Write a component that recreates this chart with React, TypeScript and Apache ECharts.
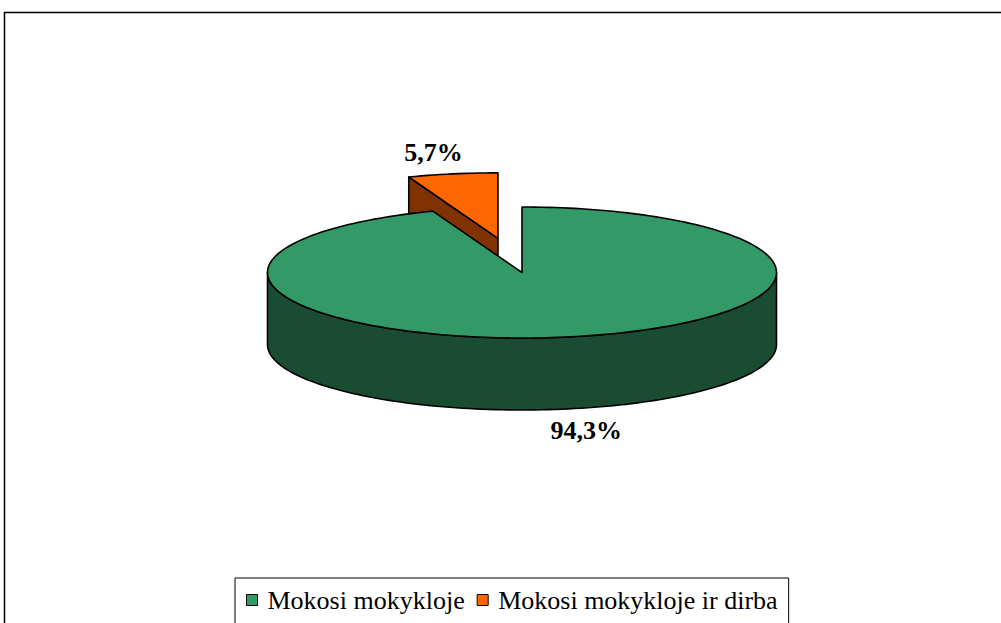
import React, { useEffect, useRef } from 'react';
import * as echarts from 'echarts';

// ---- data ----
const categories = ['Mokosi mokykloje', 'Mokosi mokykloje ir dirba'];
const values = [94.3, 5.7];
const topColors = ['#339966', '#FF6600'];
const sideColors = ['#1A4C33', '#803300'];
const explodeFactors = [0, 0.53];

// ---- layout ----
const CX = 522;
const CY = 272.5;
const RX = 254.5;
const RY = 65.5;
const DEPTH = 72;
const LABEL_RX = 1.42;
const LABEL_RY = 1.33;
const SERIF = 'Liberation Serif';

type Slice = { start: number; end: number; ox: number; oy: number; mid: number };

function computeSlices(): Slice[] {
  const total = values.reduce((a, b) => a + b, 0);
  let acc = 0;
  return values.map((v, i) => {
    const start = (acc / total) * 360;
    acc += v;
    const end = (acc / total) * 360;
    const mid = (start + end) / 2;
    const r = (mid * Math.PI) / 180;
    const ox = RX * explodeFactors[i] * Math.sin(r);
    const oy = -RY * explodeFactors[i] * Math.cos(r);
    return { start, end, ox, oy, mid };
  });
}

function pt(deg: number, s: Slice, dy = 0): number[] {
  const r = (deg * Math.PI) / 180;
  return [CX + s.ox + RX * Math.sin(r), CY + s.oy - RY * Math.cos(r) + dy];
}

function arc(a: number, b: number, s: Slice, dy = 0): number[][] {
  const n = Math.max(2, Math.ceil(Math.abs(b - a) / 1.5));
  const out: number[][] = [];
  for (let k = 0; k <= n; k++) out.push(pt(a + ((b - a) * k) / n, s, dy));
  return out;
}

function fmt(v: number) {
  return v.toFixed(1).replace('.', ',') + '%';
}

const stroke = { stroke: '#000', lineWidth: 1.6, lineJoin: 'round' as const };

function renderSlice(i: number) {
  const s = computeSlices()[i];
  const children: any[] = [];
  const apex = [CX + s.ox, CY + s.oy];
  const apexB = [apex[0], apex[1] + DEPTH];
  const faceAt = (deg: number) => {
    const top = pt(deg, s);
    const bot = pt(deg, s, DEPTH);
    children.push({
      type: 'polygon',
      shape: { points: [apex, top, bot, apexB] },
      style: { fill: sideColors[i], ...stroke },
    });
  };
  const nStart = ((s.start - 90) * Math.PI) / 180;
  const nEnd = ((s.end + 90) * Math.PI) / 180;
  if (Math.cos(nStart) < -1e-6) faceAt(s.start);
  if (Math.cos(nEnd) < -1e-6) faceAt(s.end);
  const ranges = [
    [90, 270],
    [450, 630],
  ];
  for (const [a, b] of ranges) {
    const lo = Math.max(a, s.start);
    const hi = Math.min(b, s.end);
    if (hi > lo) {
      const topArc = arc(lo, hi, s);
      const botArc = arc(hi, lo, s, DEPTH);
      children.push({
        type: 'polygon',
        shape: { points: [...topArc, ...botArc] },
        style: { fill: sideColors[i], ...stroke },
      });
    }
  }
  children.push({
    type: 'polygon',
    shape: { points: [apex, ...arc(s.start, s.end, s)] },
    style: { fill: topColors[i], ...stroke },
  });
  const mr = (s.mid * Math.PI) / 180;
  const c = Math.cos(mr);
  const lx = CX + s.ox + RX * LABEL_RX * Math.sin(mr);
  const ly = CY + s.oy - RY * LABEL_RY * c + (c < 0 ? DEPTH : 0);
  children.push({
    type: 'text',
    x: lx,
    y: ly,
    style: {
      text: fmt(values[i]),
      fontFamily: SERIF,
      fontWeight: 'bold',
      fontSize: 26,
      fill: '#000',
      align: 'center',
      verticalAlign: 'middle',
    },
  });
  return { type: 'group', children };
}

export default function App() {
  const ref = useRef<HTMLDivElement>(null);
  useEffect(() => {
    document.body.style.margin = '0';
    document.body.style.overflow = 'hidden';
    if (!ref.current) return;
    const chart = echarts.init(ref.current, null, { renderer: 'svg' });
    const order = categories.map((_, i) => i).reverse();
    chart.setOption({
      animation: false,
      backgroundColor: '#fff',
      graphic: [
        {
          type: 'rect',
          z: -1,
          shape: { x: 4.5, y: 12.5, width: 1200, height: 800 },
          style: { fill: 'none', stroke: '#000', lineWidth: 1.5 },
        },
      ],
      legend: {
        data: categories,
        left: 235,
        top: 578,
        orient: 'horizontal',
        icon: 'rect',
        itemWidth: 11,
        itemHeight: 11,
        itemGap: 12,
        padding: [9, 11, 40, 11],
        borderColor: '#000',
        borderWidth: 1,
        selectedMode: false,
        itemStyle: { borderColor: '#000', borderWidth: 1 },
        textStyle: {
          fontFamily: SERIF,
          fontSize: 26,
          color: '#000',
          padding: [0, 0, 0, 5],
        },
      },
      series: order.map((i) => ({
        type: 'custom',
        name: categories[i],
        coordinateSystem: 'none',
        itemStyle: { color: topColors[i] },
        data: [[i]],
        renderItem: (_p: any, api: any) => renderSlice(api.value(0)),
      })),
    });
    return () => chart.dispose();
  }, []);
  return <div ref={ref} style={{ width: 1001, height: 623 }} />;
}
